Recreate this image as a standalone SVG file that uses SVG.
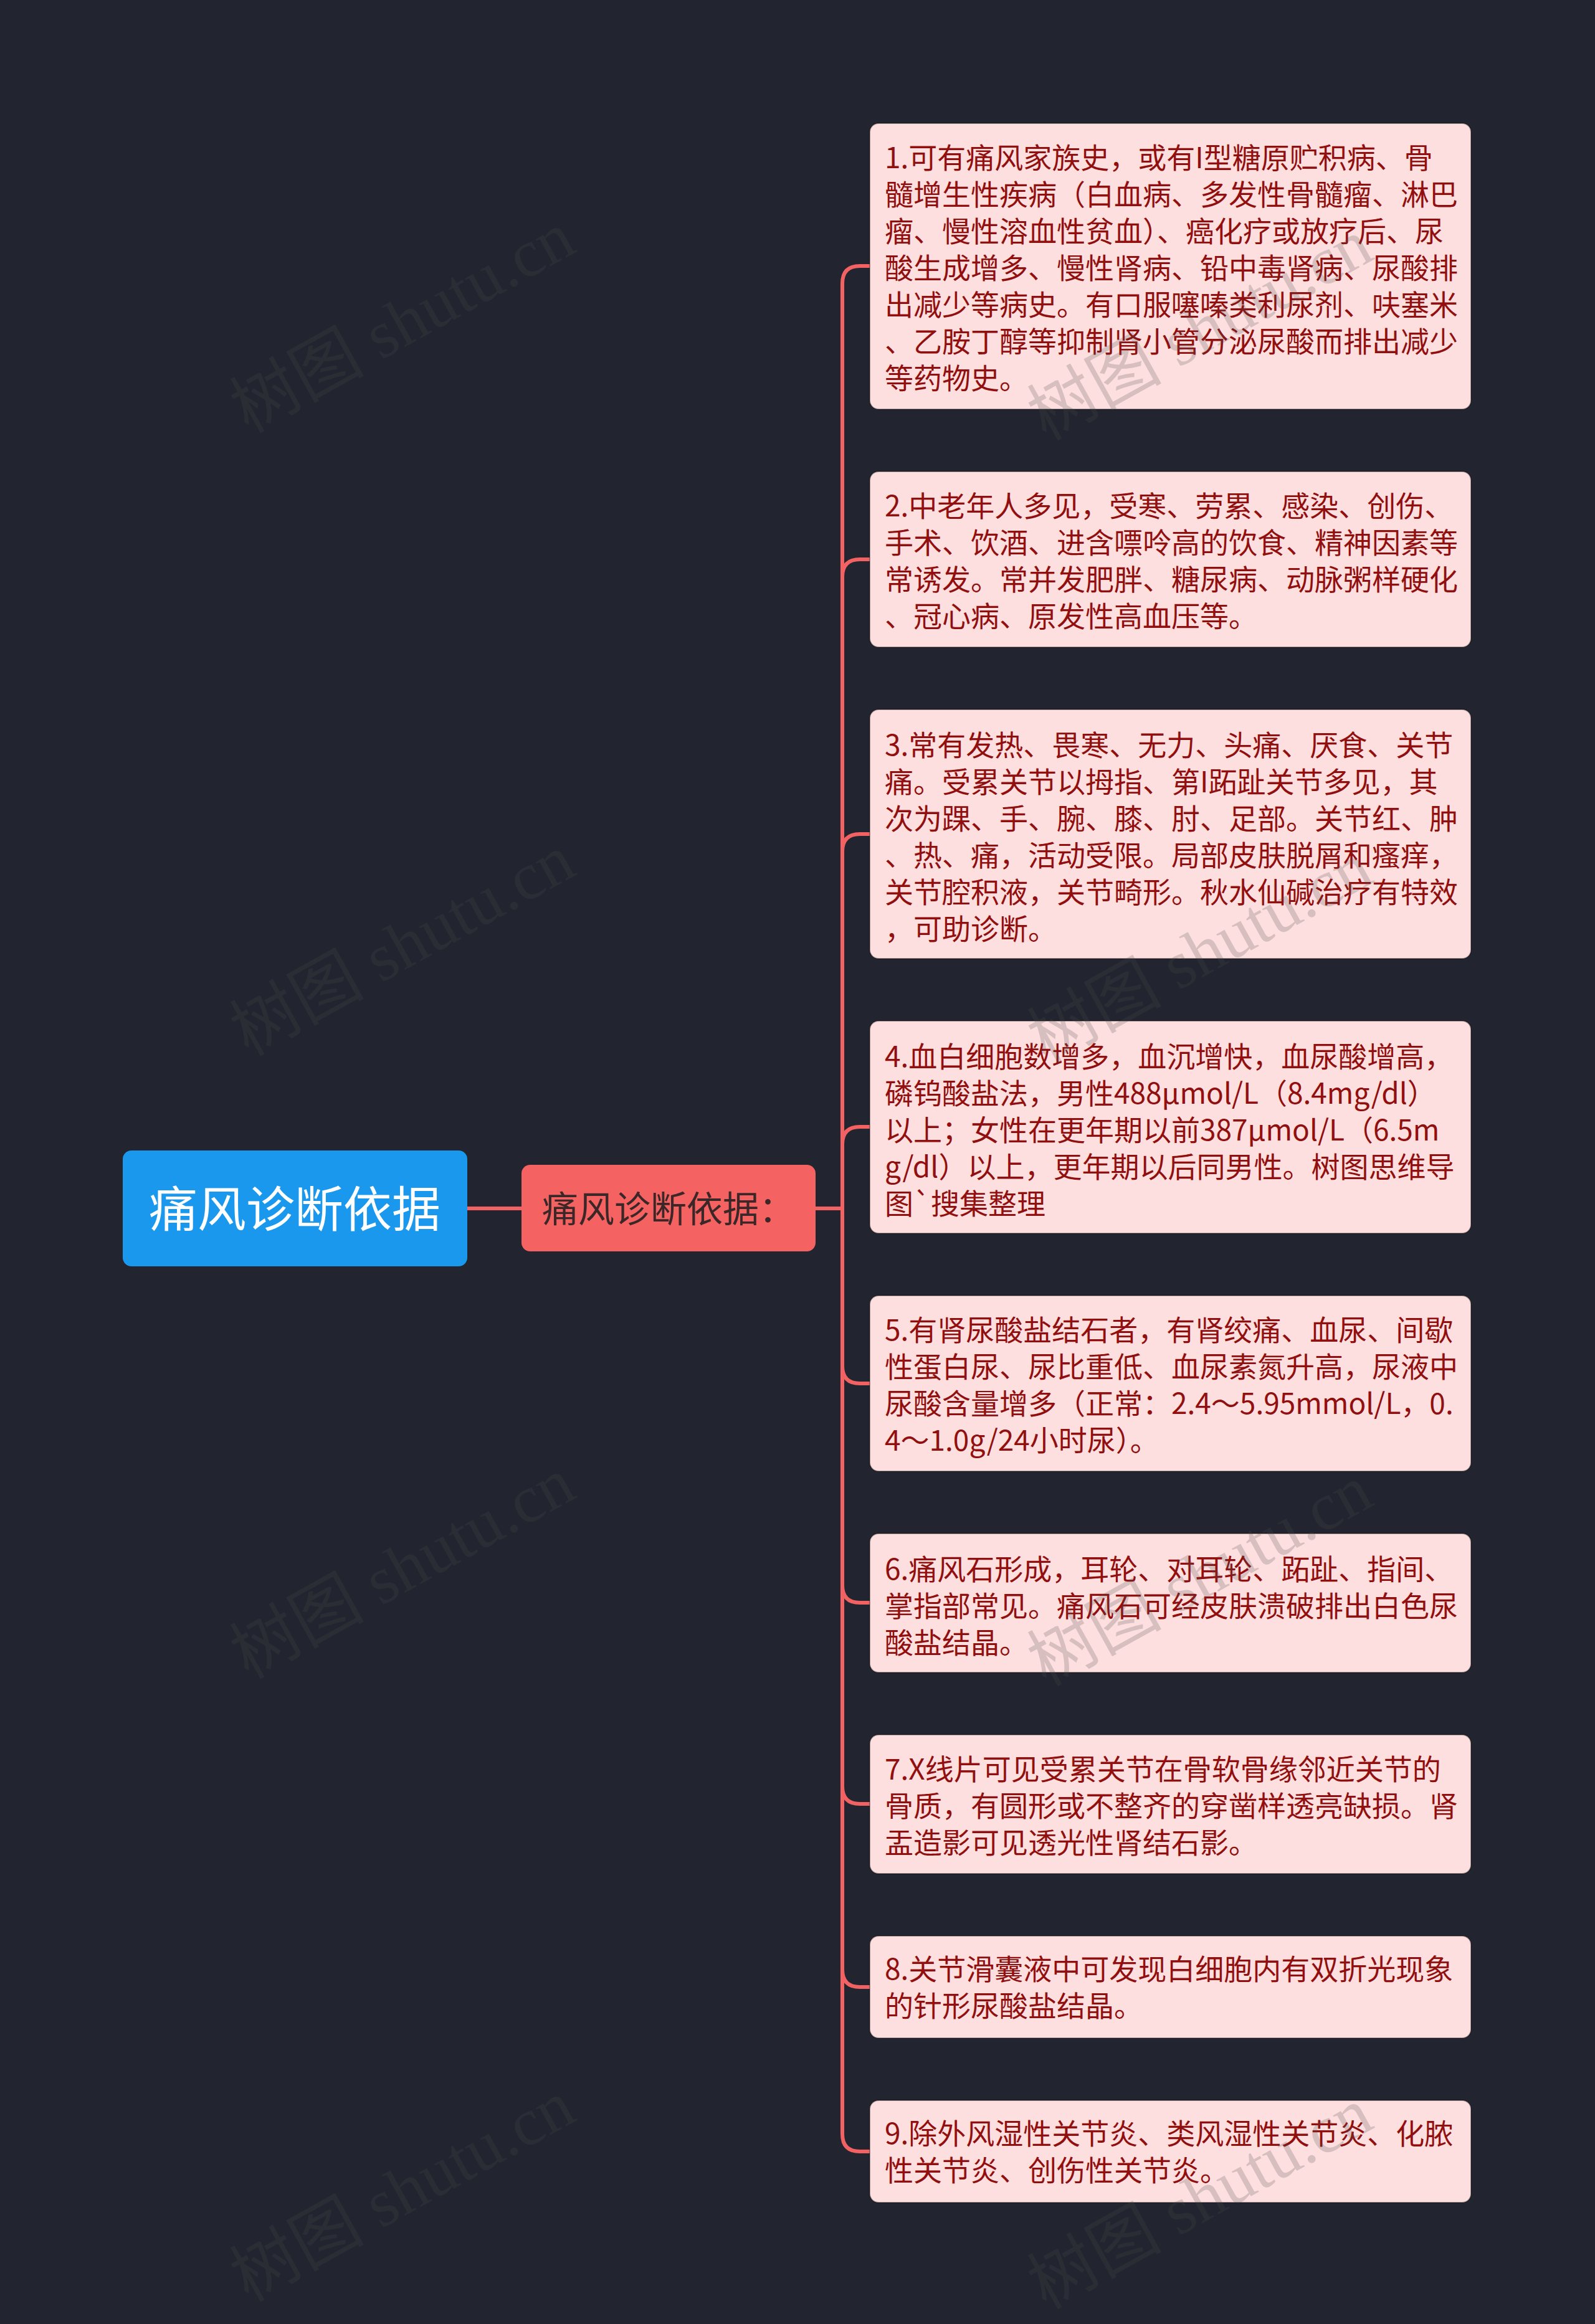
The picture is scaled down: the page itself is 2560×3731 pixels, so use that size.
<svg xmlns="http://www.w3.org/2000/svg" width="2560" height="3731" viewBox="0 0 2560 3731">
<style>
.leaf rect{fill:#FEDFDF;stroke:#000;stroke-opacity:.35;stroke-width:2}
.leaf text{font-family:"Noto Sans CJK SC","Noto Sans",sans-serif;font-size:46px;fill:#920F0F}
.conn path{fill:none;stroke:#F26262;stroke-width:6;stroke-linecap:butt}
.wm text{font-family:"Liberation Serif","Noto Sans CJK SC",serif;font-size:108px;fill:#4c4c4c;fill-opacity:.22;text-anchor:middle}
</style>
<rect width="2560" height="3731" fill="#22242F"/>
<g class="conn" id="connectors">
<path d="M750 1940 H837"/>
<path d="M1309 1940 H1352 V455 Q1352 427 1380 427 H1396"/>
<path d="M1309 1940 H1352 V926 Q1352 898 1380 898 H1396"/>
<path d="M1309 1940 H1352 V1367 Q1352 1339 1380 1339 H1396"/>
<path d="M1309 1940 H1352 V1837 Q1352 1809 1380 1809 H1396"/>
<path d="M1309 1940 H1352 V2193 Q1352 2221 1380 2221 H1396"/>
<path d="M1309 1940 H1352 V2545 Q1352 2573 1380 2573 H1396"/>
<path d="M1309 1940 H1352 V2868 Q1352 2896 1380 2896 H1396"/>
<path d="M1309 1940 H1352 V3162 Q1352 3190 1380 3190 H1396"/>
<path d="M1309 1940 H1352 V3426 Q1352 3454 1380 3454 H1396"/>
</g>
<g id="root">
<rect x="197" y="1847" width="553" height="186" rx="14" fill="#1A98EE"/>
<text x="473" y="1970" text-anchor="middle" font-family="Noto Sans CJK SC, Noto Sans, sans-serif" font-size="78" fill="#FFFFFF">痛风诊断依据</text>
</g>
<g id="mid">
<rect x="837" y="1870" width="472" height="139" rx="14" fill="#F56262"/>
<text x="1073" y="1962" text-anchor="middle" font-family="Noto Sans CJK SC, Noto Sans, sans-serif" font-size="58" fill="#3B2727">痛风诊断依据：</text>
</g>
<g class="leaf" id="n1">
<rect x="1396" y="198" width="965" height="459" rx="14"/>
<text x="1420" y="270">1.可有痛风家族史，或有I型糖原贮积病、骨</text>
<text x="1420" y="329">髓增生性疾病（白血病、多发性骨髓瘤、淋巴</text>
<text x="1420" y="388">瘤、慢性溶血性贫血）、癌化疗或放疗后、尿</text>
<text x="1420" y="447">酸生成增多、慢性肾病、铅中毒肾病、尿酸排</text>
<text x="1420" y="506">出减少等病史。有口服噻嗪类利尿剂、呋塞米</text>
<text x="1420" y="565">、乙胺丁醇等抑制肾小管分泌尿酸而排出减少</text>
<text x="1420" y="624">等药物史。</text>
</g>
<g class="leaf" id="n2">
<rect x="1396" y="757" width="965" height="282" rx="14"/>
<text x="1420" y="829">2.中老年人多见，受寒、劳累、感染、创伤、</text>
<text x="1420" y="888">手术、饮酒、进含嘌呤高的饮食、精神因素等</text>
<text x="1420" y="947">常诱发。常并发肥胖、糖尿病、动脉粥样硬化</text>
<text x="1420" y="1006">、冠心病、原发性高血压等。</text>
</g>
<g class="leaf" id="n3">
<rect x="1396" y="1139" width="965" height="400" rx="14"/>
<text x="1420" y="1213">3.常有发热、畏寒、无力、头痛、厌食、关节</text>
<text x="1420" y="1272">痛。受累关节以拇指、第I跖趾关节多见，其</text>
<text x="1420" y="1331">次为踝、手、腕、膝、肘、足部。关节红、肿</text>
<text x="1420" y="1390">、热、痛，活动受限。局部皮肤脱屑和瘙痒，</text>
<text x="1420" y="1449">关节腔积液，关节畸形。秋水仙碱治疗有特效</text>
<text x="1420" y="1508">，可助诊断。</text>
</g>
<g class="leaf" id="n4">
<rect x="1396" y="1639" width="965" height="341" rx="14"/>
<text x="1420" y="1713">4.血白细胞数增多，血沉增快，血尿酸增高，</text>
<text x="1420" y="1772">磷钨酸盐法，男性488μmol/L（8.4mg/dl）</text>
<text x="1420" y="1831">以上；女性在更年期以前387μmol/L（6.5m</text>
<text x="1420" y="1890">g/dl）以上，更年期以后同男性。树图思维导</text>
<text x="1420" y="1949">图`搜集整理</text>
</g>
<g class="leaf" id="n5">
<rect x="1396" y="2080" width="965" height="282" rx="14"/>
<text x="1420" y="2152">5.有肾尿酸盐结石者，有肾绞痛、血尿、间歇</text>
<text x="1420" y="2211">性蛋白尿、尿比重低、血尿素氮升高，尿液中</text>
<text x="1420" y="2270">尿酸含量增多（正常：2.4～5.95mmol/L，0.</text>
<text x="1420" y="2329">4～1.0g/24小时尿）。</text>
</g>
<g class="leaf" id="n6">
<rect x="1396" y="2462" width="965" height="223" rx="14"/>
<text x="1420" y="2536">6.痛风石形成，耳轮、对耳轮、跖趾、指间、</text>
<text x="1420" y="2595">掌指部常见。痛风石可经皮肤溃破排出白色尿</text>
<text x="1420" y="2654">酸盐结晶。</text>
</g>
<g class="leaf" id="n7">
<rect x="1396" y="2785" width="965" height="223" rx="14"/>
<text x="1420" y="2857">7.X线片可见受累关节在骨软骨缘邻近关节的</text>
<text x="1420" y="2916">骨质，有圆形或不整齐的穿凿样透亮缺损。肾</text>
<text x="1420" y="2975">盂造影可见透光性肾结石影。</text>
</g>
<g class="leaf" id="n8">
<rect x="1396" y="3108" width="965" height="164" rx="14"/>
<text x="1420" y="3178">8.关节滑囊液中可发现白细胞内有双折光现象</text>
<text x="1420" y="3237">的针形尿酸盐结晶。</text>
</g>
<g class="leaf" id="n9">
<rect x="1396" y="3372" width="965" height="164" rx="14"/>
<text x="1420" y="3442">9.除外风湿性关节炎、类风湿性关节炎、化脓</text>
<text x="1420" y="3501">性关节炎、创伤性关节炎。</text>
</g>
<g class="wm">
<text transform="translate(646 518) rotate(-29)" y="36">树图 shutu.cn</text>
<text transform="translate(646 1518) rotate(-29)" y="36">树图 shutu.cn</text>
<text transform="translate(646 2518) rotate(-29)" y="36">树图 shutu.cn</text>
<text transform="translate(646 3518) rotate(-29)" y="36">树图 shutu.cn</text>
<text transform="translate(1926 530) rotate(-29)" y="36">树图 shutu.cn</text>
<text transform="translate(1926 1530) rotate(-29)" y="36">树图 shutu.cn</text>
<text transform="translate(1926 2530) rotate(-29)" y="36">树图 shutu.cn</text>
<text transform="translate(1926 3530) rotate(-29)" y="36">树图 shutu.cn</text>
</g>
</svg>
